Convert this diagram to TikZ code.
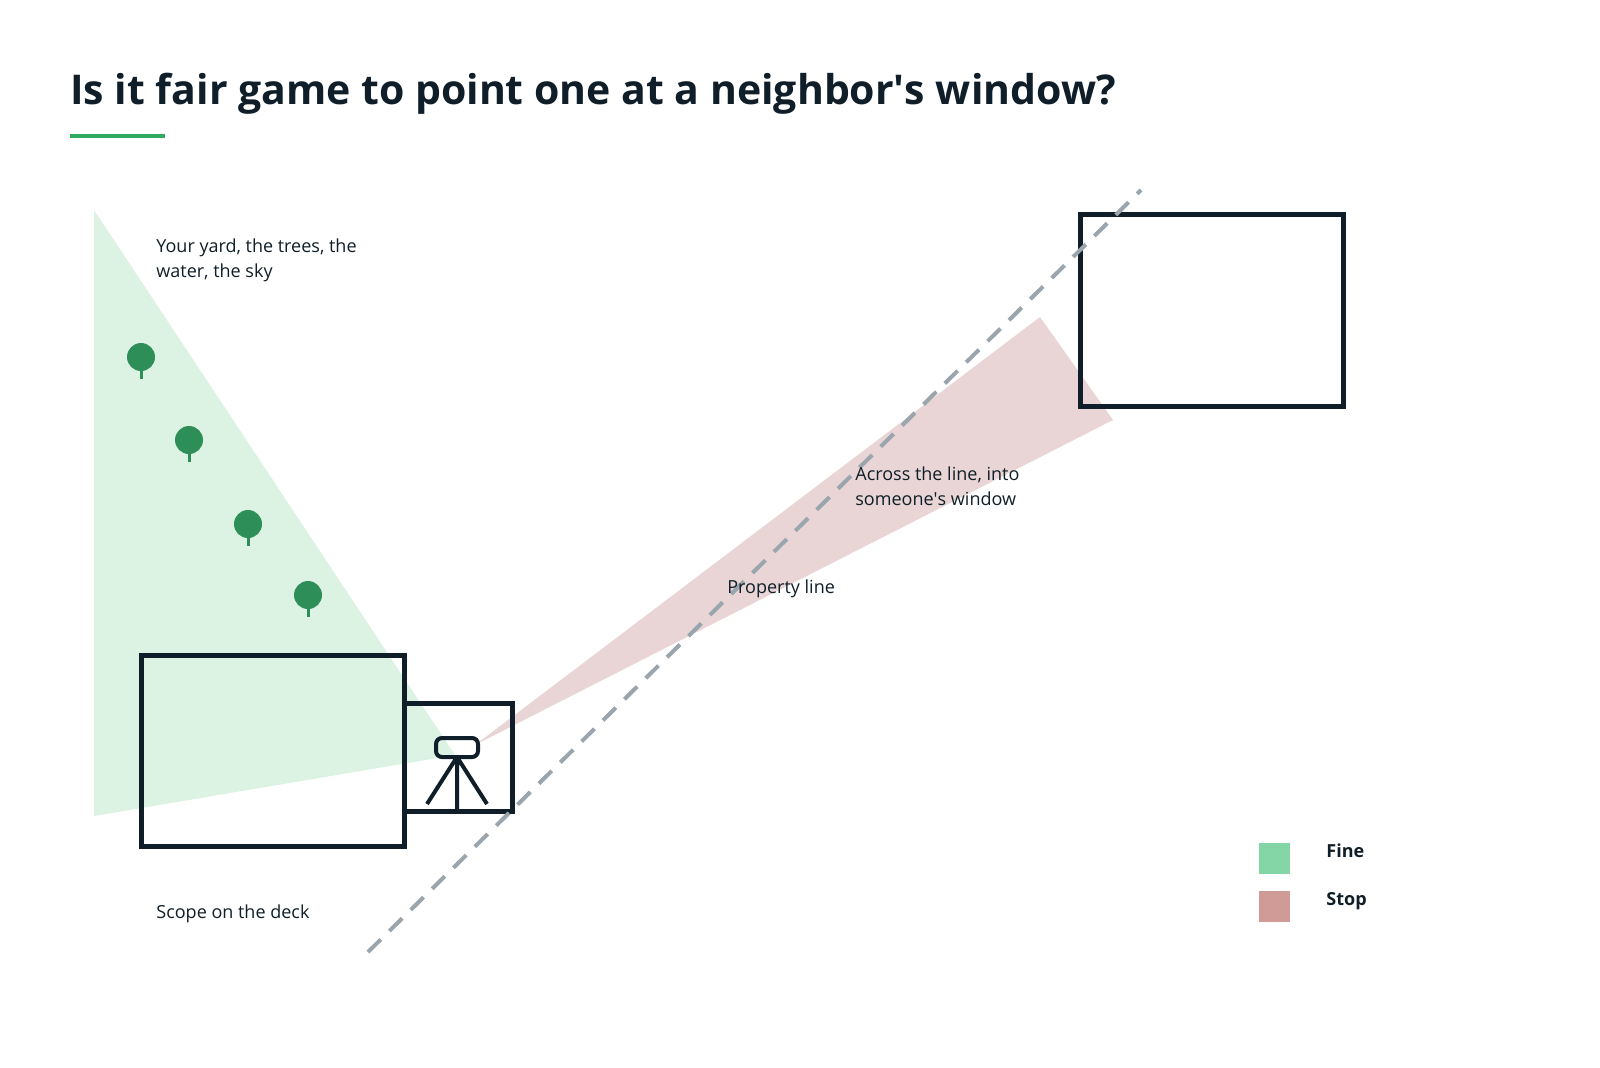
\documentclass[tikz,border=0pt]{standalone}
\usepackage{fontspec}
\setmainfont{Open Sans}
\definecolor{ink}{HTML}{0F1E28}
\definecolor{finefill}{HTML}{DCF2E3}
\definecolor{stopfill}{HTML}{E9D5D5}
\definecolor{treegreen}{HTML}{2E8E57}
\definecolor{linegray}{HTML}{9AA5AD}
\definecolor{finekey}{HTML}{85D6A6}
\definecolor{stopkey}{HTML}{D09A97}
\definecolor{accent}{HTML}{2DAA5F}
\tikzset{
  box/.style={draw=ink,line width=2.5pt},
  lbl/.style={anchor=west,align=left,text=ink,font=\fontsize{9}{12.5}\selectfont,inner sep=0pt},
  key/.style={anchor=west,text=ink,font=\bfseries\fontsize{9}{11}\selectfont,inner sep=0pt},
  tree/.style={fill=treegreen,draw=none}
}
\begin{document}
\begin{tikzpicture}[x=0.5pt,y=-0.5pt]
  \useasboundingbox (0,0) rectangle (1600,1067);
  % fields of view
  \fill[finefill] (94,210) -- (455,755) -- (94,816) -- cycle;
  \fill[stopfill] (475,745) -- (1040,317) -- (1113,420) -- cycle;
  % trees
  \foreach \tx/\ty in {141/357,189/440,248/524,308/595}{
    \fill[tree] (\tx,\ty) circle (14);
    \draw[treegreen,line width=1.5pt] (\tx,\ty) -- (\tx,\ty+22);
  }
  % buildings
  \draw[box] (141,655) rectangle (404,846);
  \draw[box] (404,703) rectangle (512,811);
  \draw[box] (1080,214) rectangle (1343,406);
  % scope on tripod
  \draw[ink,line width=2pt,rounded corners=3pt] (436,738) rectangle (478,757);
  \coordinate (mount) at (457,757);
  \draw[ink,line width=2pt] (mount) -- (427,804) (mount) -- (487,804) (mount) -- (457,810);
  % property line
  \coordinate (lineA) at (368,952);
  \coordinate (lineB) at (1141,190);
  \draw[linegray,line width=2pt,dash pattern=on 9pt off 6pt] (lineA) -- (lineB);
  % title
  \node[anchor=base west,inner sep=0pt,text=ink,font=\bfseries\fontsize{20.5}{25}\selectfont] (title) at (70,104) {Is it fair game to point one at a neighbor\textquotesingle s window?};
  \draw[accent,line width=2pt] (70,136) -- (165,136);
  % labels
  \node[lbl] (yard) at (156,260) {Your yard, the trees, the\\water, the sky};
  \node[lbl] (deck) at (156,914) {Scope on the deck};
  \node[lbl] (prop) at (727,589) {Property line};
  \node[lbl] (window) at (855,486) {Across the line, into\\someone\textquotesingle s window};
  % legend
  \fill[finekey] (1259,843) rectangle (1290,874);
  \fill[stopkey] (1259,891) rectangle (1290,922);
  \node[key] (fine) at (1326,851) {Fine};
  \node[key] (stop) at (1326,901) {Stop};
\end{tikzpicture}
\end{document}
